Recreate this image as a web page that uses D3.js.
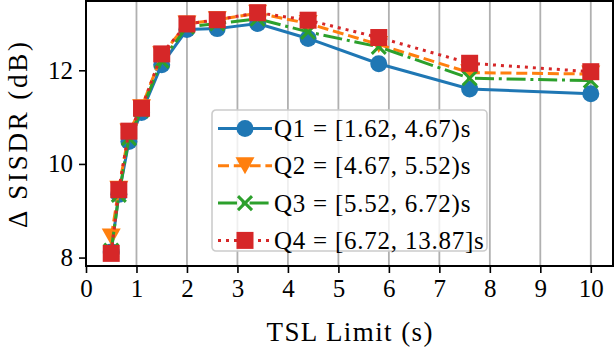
<!DOCTYPE html>
<html>
<head>
<meta charset="utf-8">
<script src="https://cdn.jsdelivr.net/npm/d3@7"></script>
<style>
  body { margin: 0; background: #fff; }
  text { font-family: "Liberation Serif", "DejaVu Serif", serif; }
</style>
</head>
<body>
<div id="chart"></div>
<script>
// TSL limits (s)
const tslLimits = [0.5, 0.65, 0.85, 1.1, 1.5, 2, 2.6, 3.4, 4.4, 5.8, 7.6, 10];

// Delta SISDR (dB) per length quartile
const q1Values = [8.12, 9.35, 10.48, 11.1, 12.12, 12.87, 12.89, 13.0, 12.68, 12.14, 11.6, 11.5];
const q2Values = [8.44, 9.46, 10.68, 11.2, 12.33, 12.99, 13.08, 13.22, 13.0, 12.55, 11.95, 11.92];
const q3Values = [8.15, 9.34, 10.55, 11.15, 12.2, 12.93, 13.0, 13.1, 12.82, 12.5, 11.83, 11.78];
const q4Values = [8.09, 9.45, 10.7, 11.19, 12.35, 12.99, 13.08, 13.23, 13.07, 12.7, 12.15, 11.97];

const seriesNames = ["Q1 = [1.62, 4.67)s", "Q2 = [4.67, 5.52)s", "Q3 = [5.52, 6.72)s", "Q4 = [6.72, 13.87]s"];
const xTicks = [0, 1, 2, 3, 4, 5, 6, 7, 8, 9, 10];
const yTicks = [8, 10, 12];

const W = 616, H = 348;
const margin = { top: 1, right: 3, bottom: 82, left: 86 };
const width = W - margin.left - margin.right;
const height = H - margin.top - margin.bottom;

const svg = d3.select("#chart").append("svg")
    .attr("width", W)
    .attr("height", H);

const g = svg.append("g")
    .attr("transform", `translate(${margin.left},${margin.top})`);

const x = d3.scaleLinear().domain([0, 10.44]).range([0, width]);
const y = d3.scaleLinear().domain([7.82, 13.48]).range([height, 0]);

// vertical grid
g.selectAll(".grid")
    .data(xTicks.filter(d => d > 0))
    .enter().append("line")
    .attr("x1", d => x(d)).attr("x2", d => x(d))
    .attr("y1", 0).attr("y2", height)
    .attr("stroke", "#b0b0b0")
    .attr("stroke-width", 1.8);

const styles = [
    { values: q1Values, color: "#1f77b4", dash: null, marker: "circle" },
    { values: q2Values, color: "#ff7f0e", dash: "11,4.8", marker: "triangle" },
    { values: q3Values, color: "#2ca02c", dash: "19,4.8,3,4.8", marker: "x" },
    { values: q4Values, color: "#d62728", dash: "3,5", marker: "square" }
];

function drawMarker(sel, type, color) {
    if (type === "circle") {
        sel.append("circle").attr("r", 8.5).attr("fill", color);
    } else if (type === "square") {
        sel.append("rect").attr("x", -8.5).attr("y", -8.5)
            .attr("width", 17).attr("height", 17).attr("fill", color);
    } else if (type === "triangle") {
        sel.append("path").attr("d", "M-9.5,-8.5L9.5,-8.5L0,8.5Z").attr("fill", color);
    } else {
        sel.append("path").attr("d", "M-7,-7L7,7M-7,7L7,-7")
            .attr("stroke", color).attr("stroke-width", 3).attr("fill", "none");
    }
}

const line = d3.line()
    .x((d, i) => x(tslLimits[i]))
    .y(d => y(d));

styles.forEach(s => {
    g.append("path")
        .datum(s.values)
        .attr("d", line)
        .attr("fill", "none")
        .attr("stroke", s.color)
        .attr("stroke-width", 3)
        .attr("stroke-dasharray", s.dash);
    g.selectAll(null)
        .data(s.values)
        .enter().append("g")
        .attr("transform", (d, i) => `translate(${x(tslLimits[i])},${y(d)})`)
        .each(function () { drawMarker(d3.select(this), s.marker, s.color); });
});

// axes
const xAxis = g.append("g")
    .attr("transform", `translate(0,${height})`)
    .call(d3.axisBottom(x).tickValues(xTicks).tickSize(7).tickPadding(6).tickFormat(d3.format("d")));
const yAxis = g.append("g")
    .call(d3.axisLeft(y).tickValues(yTicks).tickSize(7).tickPadding(6).tickFormat(d3.format("d")));
[xAxis, yAxis].forEach(a => {
    a.select(".domain").remove();
    a.selectAll(".tick line").attr("stroke", "#000").attr("stroke-width", 1.6);
    a.selectAll(".tick text").attr("font-size", 25).attr("fill", "#000")
        .style("font-family", "Liberation Serif, serif");
});

// frame
g.append("rect")
    .attr("width", width).attr("height", height)
    .attr("fill", "none").attr("stroke", "#000").attr("stroke-width", 2);

// legend
const legend = g.append("g").attr("transform", `translate(${212 - margin.left},${110 - margin.top})`);
legend.append("rect")
    .attr("width", 275).attr("height", 141).attr("rx", 4)
    .attr("fill", "#fff").attr("fill-opacity", 0.8)
    .attr("stroke", "#cccccc").attr("stroke-width", 1.6);
styles.forEach((s, i) => {
    const row = legend.append("g").attr("transform", `translate(0,${18.5 + i * 37.3})`);
    row.append("line")
        .attr("x1", 6).attr("x2", 60)
        .attr("stroke", s.color).attr("stroke-width", 3)
        .attr("stroke-dasharray", s.dash);
    const m = row.append("g").attr("transform", "translate(33,0)");
    drawMarker(m, s.marker, s.color);
    const t = row.append("text")
        .attr("x", 62).attr("y", 8.5)
        .attr("font-size", 25)
        .text(seriesNames[i]);
    // widen a little, the original uses a wider LaTeX face
    t.attr("textLength", t.node().getComputedTextLength() * 1.07)
        .attr("lengthAdjust", "spacing");
});

// axis labels
svg.append("text")
    .attr("x", margin.left + width / 2)
    .attr("y", H - 7)
    .attr("text-anchor", "middle")
    .attr("font-size", 27)
    .attr("textLength", 166)
    .attr("lengthAdjust", "spacing")
    .text("TSL Limit (s)");

svg.append("text")
    .attr("transform", `translate(27,${margin.top + 134}) rotate(-90)`)
    .attr("text-anchor", "middle")
    .attr("font-size", 27)
    .attr("textLength", 186)
    .attr("lengthAdjust", "spacing")
    .text("Δ SISDR (dB)");
</script>
</body>
</html>
